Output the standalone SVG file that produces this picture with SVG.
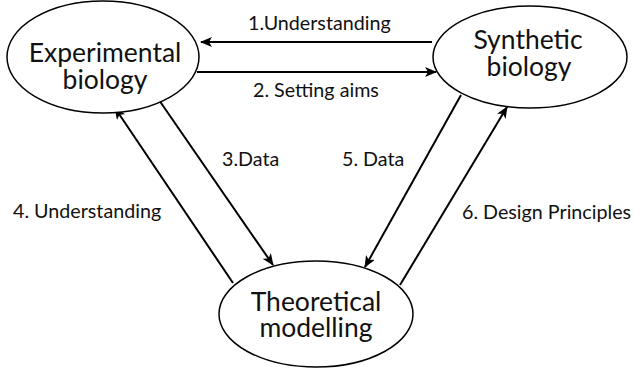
<svg xmlns="http://www.w3.org/2000/svg" width="634" height="369" viewBox="0 0 634 369">
<style>
.node{fill:#fff;stroke:#000;stroke-width:1.5}
.nt{font-family:Lato,"Open Sans","Liberation Sans",sans-serif;font-size:26.5px;fill:#111;text-anchor:middle}
.lt{font-family:Lato,"Open Sans","Liberation Sans",sans-serif;font-size:19.7px;fill:#111}
.c{stroke:#000;stroke-width:2;fill:none}
</style>
<defs>
<marker id="ah" viewBox="0 0 12 10" refX="11" refY="5" markerWidth="6" markerHeight="5" orient="auto" markerUnits="strokeWidth">
<path d="M0,0 L12,5 L0,10 L3,5 z" fill="#000"/>
</marker>
</defs>
<rect width="634" height="369" fill="#fff"/>
<g id="connectors">
<line class="c" x1="432" y1="42" x2="201" y2="42" marker-end="url(#ah)"/>
<line class="c" x1="197" y1="72" x2="436" y2="72" marker-end="url(#ah)"/>
<line class="c" x1="159" y1="100" x2="273" y2="265" marker-end="url(#ah)"/>
<line class="c" x1="233" y1="283" x2="115" y2="108" marker-end="url(#ah)"/>
<line class="c" x1="461" y1="95" x2="365" y2="267" marker-end="url(#ah)"/>
<line class="c" x1="400" y1="285" x2="507" y2="107" marker-end="url(#ah)"/>
<text class="lt" x="248" y="30">1.Understanding</text>
<text class="lt" x="253" y="97">2. Setting aims</text>
<text class="lt" x="222" y="166">3.Data</text>
<text class="lt" x="13" y="218">4. Understanding</text>
<text class="lt" x="342" y="166">5. Data</text>
<text class="lt" x="462" y="219">6. Design Principles</text>
</g>
<g id="experimental">
<ellipse class="node" cx="103" cy="57" rx="96" ry="56"/>
<text class="nt" x="105" y="62">Experimental</text>
<text class="nt" x="105" y="89">biology</text>
</g>
<g id="synthetic">
<ellipse class="node" cx="530" cy="57" rx="97" ry="51"/>
<text class="nt" x="528" y="49">Synthetic</text>
<text class="nt" x="529" y="76">biology</text>
</g>
<g id="theoretical">
<ellipse class="node" cx="316" cy="314" rx="97" ry="53"/>
<text class="nt" x="316" y="311">Theoretical</text>
<text class="nt" x="316" y="337">modelling</text>
</g>
</svg>
